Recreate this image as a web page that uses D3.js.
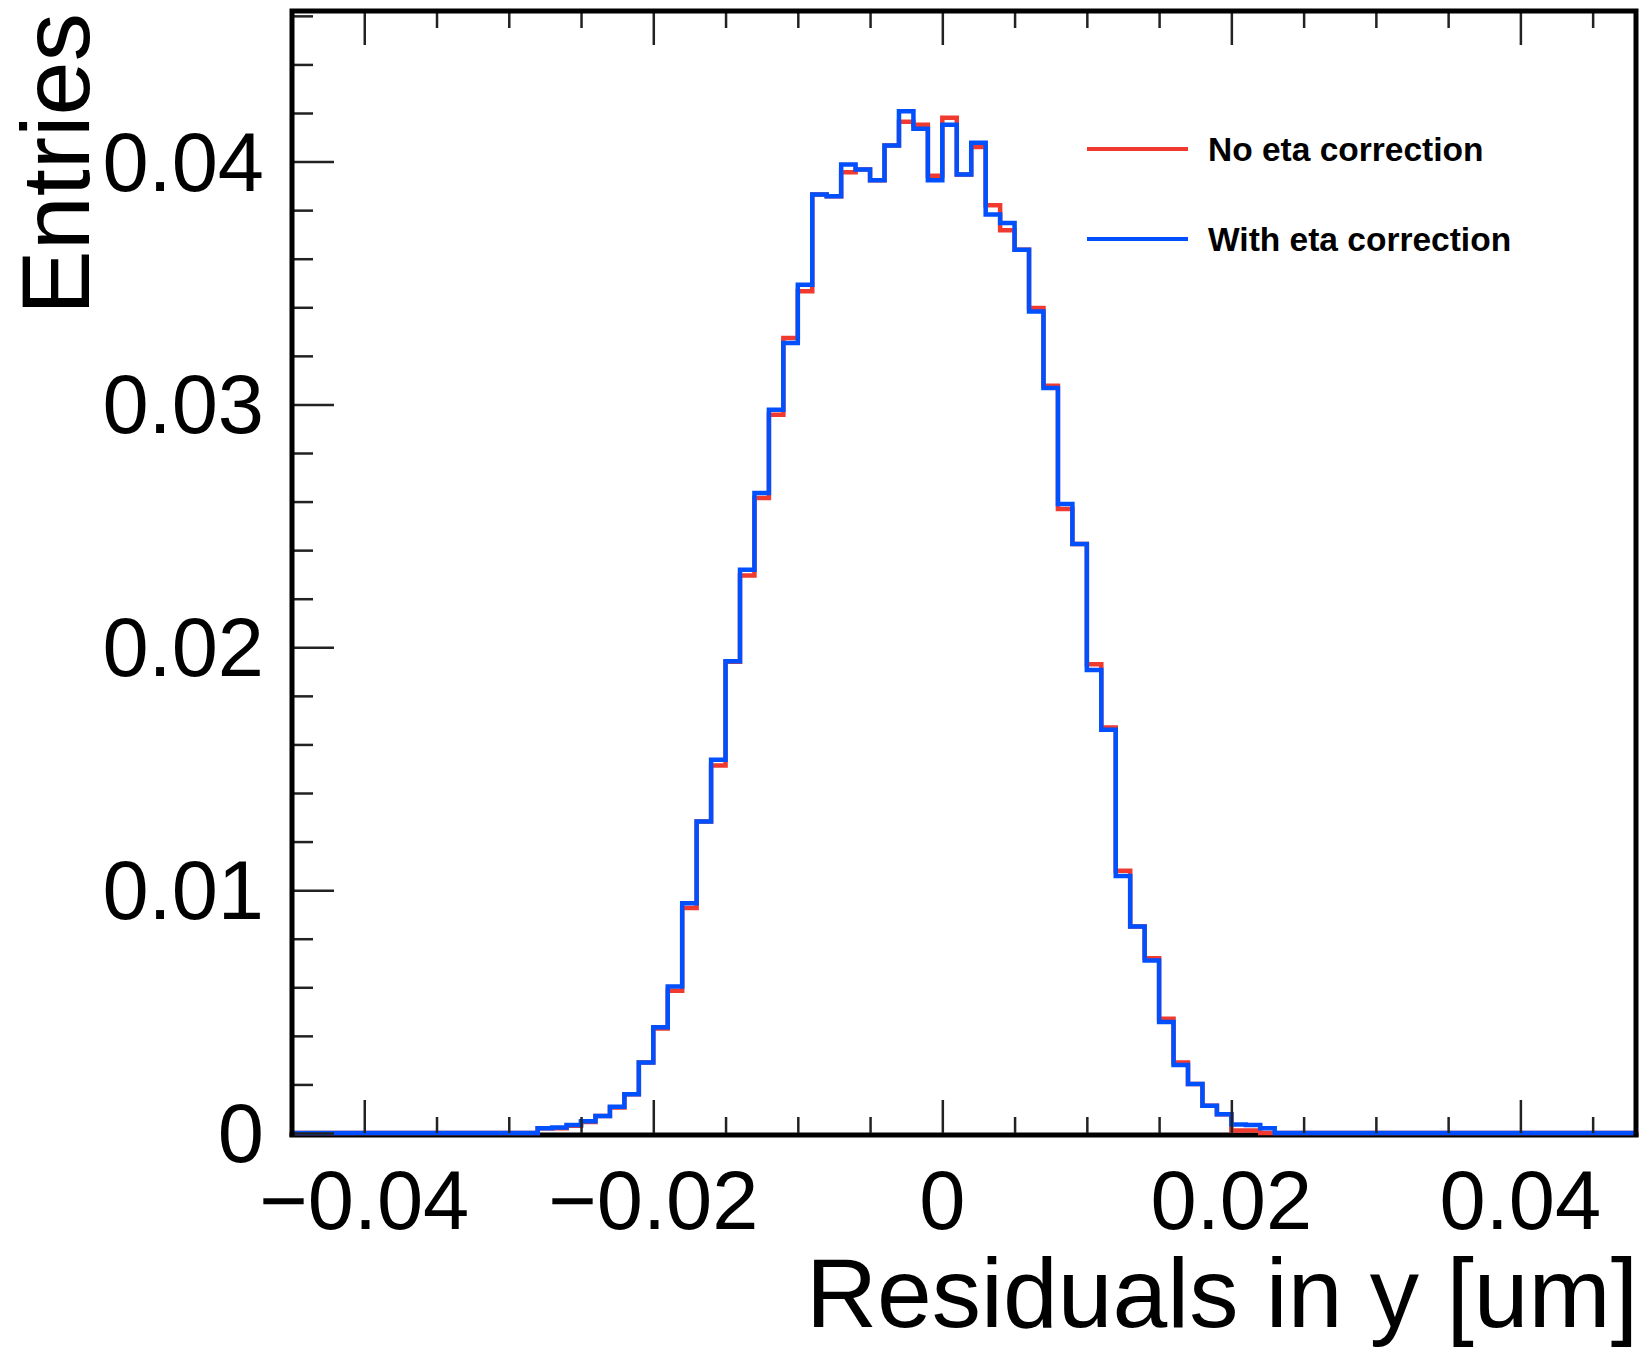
<!DOCTYPE html>
<html>
<head>
<meta charset="utf-8">
<script src="https://cdn.jsdelivr.net/npm/d3@7"></script>
<style>
  body { margin: 0; background: #fff; }
  svg { display: block; }
</style>
</head>
<body>
<div id="chart"></div>
<script>
// Residuals in y, normalised histograms (bin width 0.001)
const binWidth = 0.001
const binLows = [-0.028, -0.027, -0.026, -0.025, -0.024, -0.023, -0.022, -0.021, -0.020, -0.019,
  -0.018, -0.017, -0.016, -0.015, -0.014, -0.013, -0.012, -0.011, -0.010, -0.009,
  -0.008, -0.007, -0.006, -0.005, -0.004, -0.003, -0.002, -0.001, 0.000, 0.001,
  0.002, 0.003, 0.004, 0.005, 0.006, 0.007, 0.008, 0.009, 0.010, 0.011,
  0.012, 0.013, 0.014, 0.015, 0.016, 0.017, 0.018, 0.019, 0.020, 0.021, 0.022]

const withEta = [0.0002, 0.00023, 0.00033, 0.00048, 0.0007, 0.00108, 0.0016, 0.0029, 0.00435, 0.00603,
  0.00946, 0.01283, 0.01537, 0.01942, 0.02319, 0.02635, 0.02978, 0.03253, 0.03493, 0.03864,
  0.03857, 0.03988, 0.03967, 0.03923, 0.04066, 0.04207, 0.04135, 0.03923, 0.04152, 0.03947,
  0.04077, 0.03782, 0.03747, 0.03637, 0.03383, 0.03068, 0.0259, 0.02425, 0.01906, 0.0166,
  0.01058, 0.0085, 0.0071, 0.00457, 0.0028, 0.00202, 0.00112, 0.00077, 0.00035, 0.00033, 0.0002]

const noEta = [0.0002, 0.0002, 0.0003, 0.00045, 0.0007, 0.00105, 0.0016, 0.0029, 0.0043, 0.00586,
  0.00926, 0.01283, 0.01513, 0.0194, 0.02296, 0.02615, 0.02958, 0.03274, 0.03466, 0.03864,
  0.03857, 0.03956, 0.03967, 0.03923, 0.04066, 0.04164, 0.04152, 0.03942, 0.0418, 0.03947,
  0.0406, 0.0382, 0.03717, 0.03637, 0.03397, 0.03077, 0.02569, 0.02425, 0.0193, 0.0167,
  0.0108, 0.0085, 0.0072, 0.0047, 0.0029, 0.00202, 0.00112, 0.00077, 0.0001, 0.0001, 0.0]

const seriesNames = ["No eta correction", "With eta correction"]
const xMajorTicks = [-0.04, -0.02, 0, 0.02, 0.04]
const xTickLabels = ["\u22120.04", "\u22120.02", "0", "0.02", "0.04"]
const yMajorTicks = [0, 0.01, 0.02, 0.03, 0.04]
const yTickLabels = ["0", "0.01", "0.02", "0.03", "0.04"]

const width = 1649
const height = 1351
const frame = { left: 292, right: 1636, top: 11, bottom: 1133 }
const font = "'Liberation Sans', Arial, Helvetica, sans-serif"
const colors = { noEta: "#f03a30", withEta: "#0050ff" }

const svg = d3.select("#chart")
  .append("svg")
  .attr("width", width)
  .attr("height", height)

svg.append("rect").attr("width", width).attr("height", height).attr("fill", "#fff")

const x = d3.scaleLinear().domain([-0.045, 0.048]).range([frame.left, frame.right])
const y = d3.scaleLinear().domain([0, 0.0462]).range([frame.bottom, frame.top])

// bottom frame line sits just under the zero level of the histograms
svg.append("line")
  .attr("x1", frame.left - 2.5).attr("x2", frame.right + 2.5)
  .attr("y1", frame.bottom + 2).attr("y2", frame.bottom + 2)
  .attr("stroke", "#000").attr("stroke-width", 5)

// step outline of a histogram
function stepPoints(values) {
  const [x0, x1] = x.domain()
  const pts = [[x0, 0]]
  binLows.forEach((b, i) => pts.push([b, values[i]]))
  pts.push([binLows[binLows.length - 1] + binWidth, 0])
  pts.push([x1, 0])
  return pts
}

const step = d3.line()
  .x(d => x(d[0]))
  .y(d => y(d[1]))
  .curve(d3.curveStepAfter)

const hist = svg.append("g")
hist.append("path")
  .attr("d", step(stepPoints(noEta)))
  .attr("fill", "none")
  .attr("stroke", colors.noEta)
  .attr("stroke-width", 4.5)
hist.append("path")
  .attr("d", step(stepPoints(withEta)))
  .attr("fill", "none")
  .attr("stroke", colors.withEta)
  .attr("stroke-width", 4.5)

// Ticks
const tickColor = "#222"
const xMinor = d3.range(-0.045, 0.0481, 0.005).filter(v => !xMajorTicks.some(m => Math.abs(m - v) < 1e-9))
const yMinor = d3.range(0, 0.0462, 0.002).filter(v => !yMajorTicks.some(m => Math.abs(m - v) < 1e-9))

function drawTicks(g, axis) {
  g.call(axis)
  g.select(".domain").remove()
  g.selectAll(".tick line").attr("stroke", tickColor).attr("stroke-width", 2.5)
  g.selectAll(".tick text").remove()
}

svg.append("g").attr("transform", `translate(0,${frame.bottom})`)
  .call(drawTicks, d3.axisBottom(x).tickValues(xMinor).tickSize(-16))
svg.append("g").attr("transform", `translate(0,${frame.bottom})`)
  .call(drawTicks, d3.axisBottom(x).tickValues(xMajorTicks).tickSize(-33))
svg.append("g").attr("transform", `translate(0,${frame.top})`)
  .call(drawTicks, d3.axisTop(x).tickValues(xMinor).tickSize(-17))
svg.append("g").attr("transform", `translate(0,${frame.top})`)
  .call(drawTicks, d3.axisTop(x).tickValues(xMajorTicks).tickSize(-34))
svg.append("g").attr("transform", `translate(${frame.left},0)`)
  .call(drawTicks, d3.axisLeft(y).tickValues(yMinor).tickSize(-21))
svg.append("g").attr("transform", `translate(${frame.left},0)`)
  .call(drawTicks, d3.axisLeft(y).tickValues(yMajorTicks).tickSize(-42))

// left, top, right frame on top of the histograms
svg.append("path")
  .attr("d", `M${frame.left},${frame.bottom + 4}V${frame.top}H${frame.right}V${frame.bottom + 4}`)
  .attr("fill", "none")
  .attr("stroke", "#000")
  .attr("stroke-width", 5)

// Tick labels
svg.append("g")
  .selectAll("text")
  .data(xMajorTicks)
  .join("text")
  .attr("x", d => x(d))
  .attr("y", 1229)
  .attr("text-anchor", "middle")
  .attr("font-family", font)
  .attr("font-size", 83)
  .attr("fill", "#000")
  .text((d, i) => xTickLabels[i])

svg.append("g")
  .selectAll("text")
  .data(yMajorTicks)
  .join("text")
  .attr("x", 264)
  .attr("y", d => y(d) + 29)
  .attr("text-anchor", "end")
  .attr("font-family", font)
  .attr("font-size", 83)
  .attr("fill", "#000")
  .text((d, i) => yTickLabels[i])

// Axis titles
svg.append("text")
  .attr("x", frame.right + 2)
  .attr("y", 1327)
  .attr("text-anchor", "end")
  .attr("font-family", font)
  .attr("font-size", 98.5)
  .attr("fill", "#000")
  .text("Residuals in y [um]")

svg.append("text")
  .attr("transform", "translate(89,13) rotate(-90)")
  .attr("text-anchor", "end")
  .attr("font-family", font)
  .attr("font-size", 97)
  .attr("fill", "#000")
  .text("Entries")

// Legend
const legend = svg.append("g")
const legendRows = [
  { name: seriesNames[0], color: colors.noEta, y: 149 },
  { name: seriesNames[1], color: colors.withEta, y: 239 }
]
legend.selectAll("line")
  .data(legendRows)
  .join("line")
  .attr("x1", 1087).attr("x2", 1188)
  .attr("y1", d => d.y).attr("y2", d => d.y)
  .attr("stroke", d => d.color)
  .attr("stroke-width", 4)
legend.selectAll("text")
  .data(legendRows)
  .join("text")
  .attr("x", 1208)
  .attr("y", d => d.y + 12)
  .attr("font-family", font)
  .attr("font-weight", "bold")
  .attr("font-size", 33.5)
  .attr("fill", "#000")
  .text(d => d.name)
</script>
</body>
</html>
